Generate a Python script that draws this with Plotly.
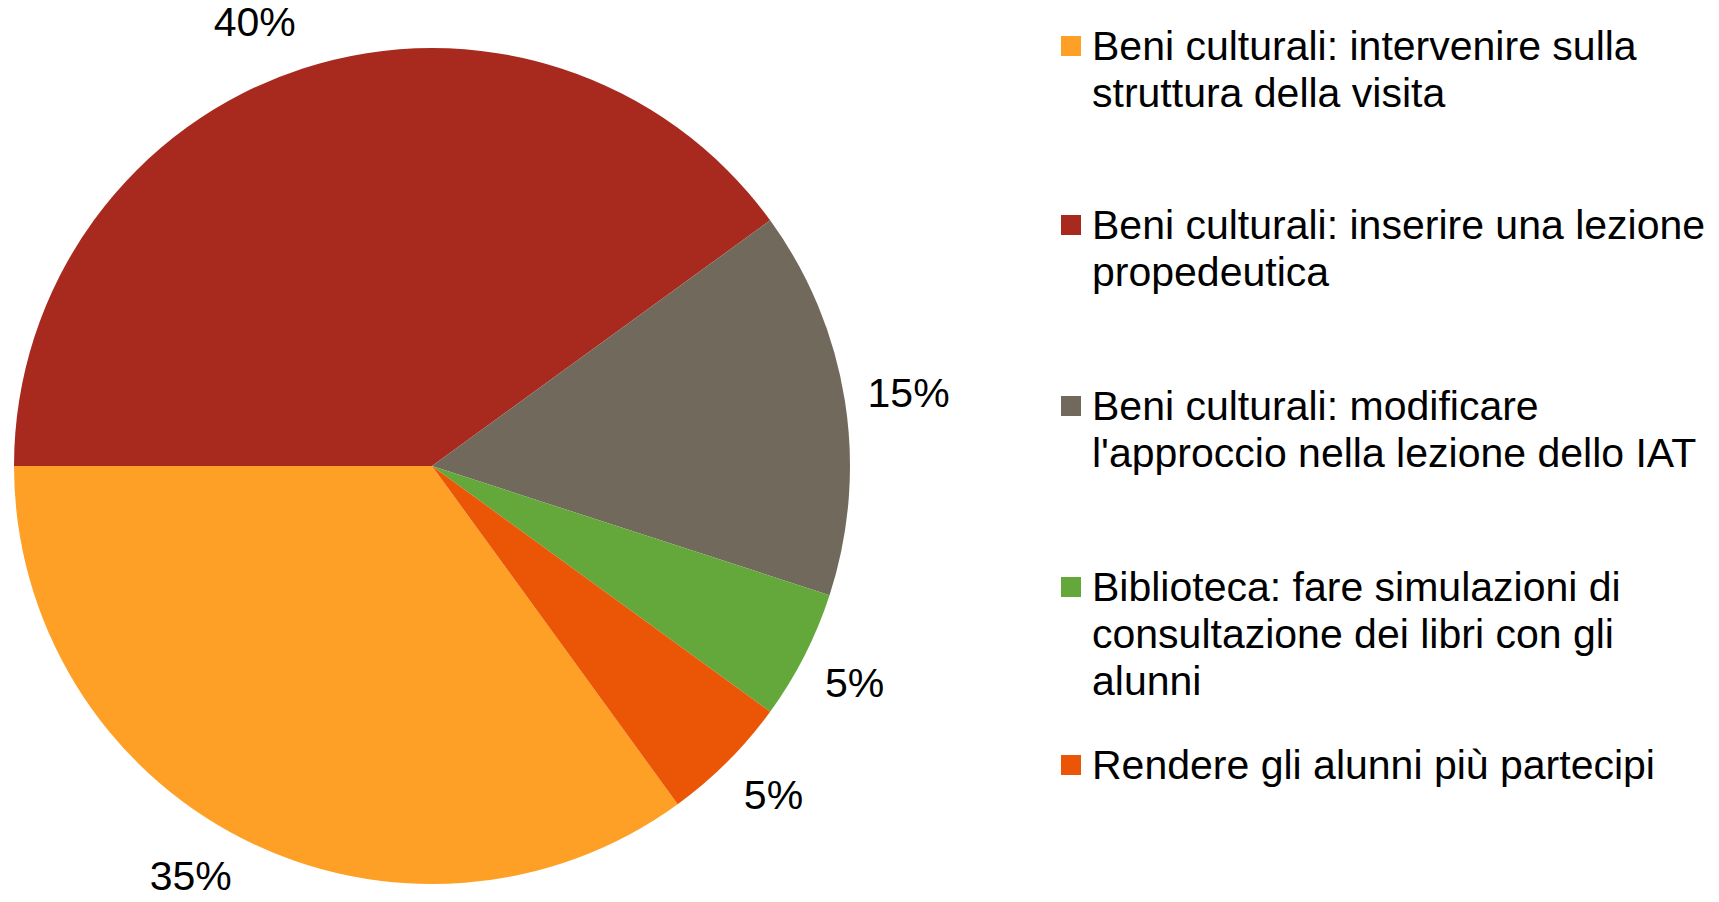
import math
import plotly.graph_objects as go

categories = [
    "Beni culturali: intervenire sulla\nstruttura della visita",
    "Beni culturali: inserire una lezione\npropedeutica",
    "Beni culturali: modificare\nl'approccio nella lezione dello IAT",
    "Biblioteca: fare simulazioni di\nconsultazione dei libri con gli\nalunni",
    "Rendere gli alunni più partecipi",
]
values = [7, 8, 3, 1, 1]
colors = ["#FDA025", "#A82A1F", "#716A5C", "#64A83C", "#EA5506"]

# page has an 8px body margin, so the figure is 8px smaller than the window
W, H = 1711, 894
FONT = "Liberation Sans"
START_ANGLE = -54   # degrees, counter-clockwise from east, where first slice begins (clockwise)
CX, CY, R = 424, 458, 418   # pie centre (px from top-left) and radius in px
LABEL_R = 1.055     # label anchor distance, in pie radii

pie_domain = dict(x=[(CX - R) / W, (CX + R) / W],
                  y=[(H - CY - R) / H, (H - CY + R) / H])

fig = go.Figure()
fig.add_trace(go.Pie(
    labels=[c.replace("\n", " ") for c in categories],
    values=values,
    sort=False,
    direction="clockwise",
    rotation=90 - START_ANGLE,
    marker=dict(colors=colors, line=dict(width=0)),
    textinfo="none",
    domain=pie_domain,
    showlegend=False,
    hoverinfo="label+percent",
))

# percentage labels just outside the pie, on hidden axes scaled in pie radii
total = sum(values)
lx, ly, pct_text, tpos = [], [], [], []
cum = 0
for v in values:
    ang = math.radians(START_ANGLE - 360 * (cum + v / 2) / total)
    c, s = math.cos(ang), math.sin(ang)
    lx.append(LABEL_R * c)
    ly.append(LABEL_R * s)
    pct_text.append(f"{round(100 * v / total)}%")
    vert = "top" if s > 0.5 else ("bottom" if s < -0.3 else "middle")
    horiz = "right" if c > 0 else "left"
    tpos.append(f"{vert} {horiz}")
    cum += v

fig.add_trace(go.Scatter(
    x=lx, y=ly,
    mode="text",
    text=pct_text,
    textposition=tpos,
    textfont=dict(family=FONT, size=41, color="#000000"),
    cliponaxis=False,
    hoverinfo="skip",
    showlegend=False,
))

# Manual legend (pixel positions from top of figure)
item_tops = [38, 217, 398, 579, 757]
line_gap = 47
shapes = []
annotations = []
for cat, col, y0 in zip(categories, colors, item_tops):
    shapes.append(dict(
        type="rect", xref="paper", yref="paper",
        x0=1053 / W, x1=1073 / W,
        y0=1 - (y0 + 10) / H, y1=1 - (y0 - 10) / H,
        fillcolor=col, line=dict(width=0),
    ))
    for j, line in enumerate(cat.split("\n")):
        annotations.append(dict(
            text=line, xref="paper", yref="paper",
            x=1082 / W, y=1 - (y0 + j * line_gap) / H,
            xanchor="left", yanchor="middle", showarrow=False,
            font=dict(family=FONT, size=41, color="#000000"),
        ))

hidden = dict(visible=False, showgrid=False, zeroline=False, fixedrange=True, domain=[0, 1])
fig.update_layout(
    width=W, height=H,
    margin=dict(l=0, r=0, t=0, b=0),
    paper_bgcolor="white",
    plot_bgcolor="rgba(0,0,0,0)",
    xaxis=dict(range=[-CX / R, (W - CX) / R], **hidden),
    yaxis=dict(range=[-(H - CY) / R, CY / R], **hidden),
    shapes=shapes,
    annotations=annotations,
    showlegend=False,
)

fig.write_html("out.html")
